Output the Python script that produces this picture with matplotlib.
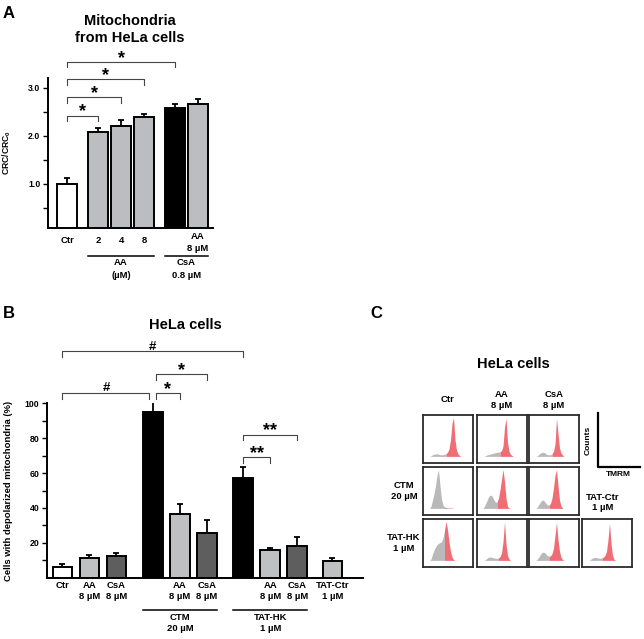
import numpy as np
import matplotlib
matplotlib.use('Agg')
import matplotlib.pyplot as plt
from matplotlib import transforms
from matplotlib.lines import Line2D

plt.rcParams['font.family'] = ['Liberation Sans', 'DejaVu Sans']
plt.rcParams['font.weight'] = 'bold'
plt.rcParams['mathtext.fontset'] = 'custom'
plt.rcParams['mathtext.rm'] = 'Liberation Sans:bold'
plt.rcParams['mathtext.it'] = 'Liberation Sans:bold'
plt.rcParams['mathtext.bf'] = 'Liberation Sans:bold'

W, H = 644, 639
FS = 6.8   # label size
TS = 6.3   # tick size

# ---- panel A : CRC of isolated mitochondria
a_ticks = ['Ctr', '2', '4', '8', '', 'AA\n8 µM']
a_crc = [1.00, 2.07, 2.21, 2.39, 2.57, 2.66]
a_sem = [0.12, 0.10, 0.12, 0.06, 0.09, 0.11]
a_groups = ['AA\n(µM)', 'CsA\n0.8 µM']
a_sig = ['*', '*', '*', '*']

# ---- panel B : cells with depolarized mitochondria
b_ticks = ['Ctr', 'AA\n8 µM', 'CsA\n8 µM', '', 'AA\n8 µM', 'CsA\n8 µM',
           '', 'AA\n8 µM', 'CsA\n8 µM', 'TAT-Ctr\n1 µM']
b_depol = [6.1, 11.2, 12.5, 94.8, 36.4, 25.4, 57.0, 15.6, 18.1, 9.8]
b_sem = [2.0, 1.7, 1.7, 5.7, 6.1, 7.9, 6.4, 1.5, 5.4, 1.5]
b_groups = ['CTM\n20 µM', 'TAT-HK\n1 µM']

# ---- panel C : TMRM histograms (normalised counts on a common TMRM grid)
tmrm_x = [0.10, 0.13, 0.16, 0.19, 0.22, 0.25, 0.28, 0.31, 0.34, 0.37, 0.40, 0.43,
          0.46, 0.49, 0.52, 0.55, 0.58, 0.61, 0.64, 0.67, 0.70, 0.73, 0.76, 0.79]
h_ctr_ctr = [0, 0, 0.01, 0.04, 0.05, 0.06, 0.06, 0.05, 0.04, 0.04, 0.04, 0.05,
             0.06, 0.10, 0.18, 0.40, 0.80, 0.94, 0.40, 0.15, 0.06, 0.02, 0, 0]
h_ctr_aa = [0, 0, 0.01, 0.03, 0.04, 0.05, 0.06, 0.07, 0.08, 0.09, 0.10, 0.10,
            0.11, 0.14, 0.25, 0.70, 0.93, 0.35, 0.12, 0.05, 0.02, 0, 0, 0]
h_ctr_csa = [0, 0, 0.01, 0.04, 0.07, 0.09, 0.10, 0.09, 0.06, 0.04, 0.04, 0.04,
             0.06, 0.12, 0.30, 0.92, 0.55, 0.20, 0.08, 0.03, 0, 0, 0, 0]
h_ctm_ctr = [0, 0, 0.05, 0.20, 0.35, 0.55, 0.80, 0.93, 0.55, 0.22, 0.08, 0.03,
             0.02, 0.01, 0.01, 0.01, 0.01, 0, 0, 0, 0, 0, 0, 0]
h_ctm_aa = [0, 0.01, 0.08, 0.16, 0.25, 0.31, 0.32, 0.28, 0.20, 0.15, 0.15, 0.25,
            0.45, 0.70, 0.94, 0.65, 0.25, 0.05, 0.01, 0, 0, 0, 0, 0]
h_ctm_csa = [0, 0, 0.02, 0.08, 0.14, 0.19, 0.20, 0.17, 0.12, 0.08, 0.08, 0.12,
             0.25, 0.50, 0.80, 0.94, 0.55, 0.20, 0.06, 0.01, 0, 0, 0, 0]
h_hk_ctr = [0, 0, 0.03, 0.15, 0.25, 0.32, 0.38, 0.41, 0.43, 0.45, 0.55, 0.72,
            0.94, 0.75, 0.45, 0.22, 0.08, 0.02, 0, 0, 0, 0, 0, 0]
h_hk_aa = [0, 0, 0.01, 0.04, 0.07, 0.08, 0.08, 0.07, 0.06, 0.05, 0.05, 0.06,
           0.09, 0.18, 0.45, 0.93, 0.40, 0.12, 0.03, 0, 0, 0, 0, 0]
h_hk_csa = [0, 0, 0.02, 0.07, 0.13, 0.18, 0.20, 0.19, 0.15, 0.11, 0.10, 0.11,
            0.16, 0.30, 0.60, 0.92, 0.50, 0.22, 0.08, 0.02, 0, 0, 0, 0]
h_tatctr = [0, 0, 0.01, 0.04, 0.06, 0.07, 0.07, 0.06, 0.05, 0.05, 0.06, 0.08,
            0.12, 0.22, 0.50, 0.90, 0.42, 0.12, 0.03, 0, 0, 0, 0, 0]
gate = [[0.46, 0.46, 0.46], [0.43, 0.40, 0.40], [0.43, 0.43, 0.40, 0.40]]
c_cols = ['Ctr', 'AA\n8 µM', 'CsA\n8 µM']
c_rows = ['CTM\n20 µM', 'TAT-HK\n1 µM']

fig = plt.figure(figsize=(W / 100, H / 100), dpi=100)


def fx(px):
    return px / W


def fy(py):
    return 1 - py / H


def style_axis(ax):
    for s in ['top', 'right']:
        ax.spines[s].set_visible(False)
    for s in ['left', 'bottom']:
        ax.spines[s].set_linewidth(1.4)
    ax.tick_params(axis='y', which='both', length=3.6, width=1.0, pad=1.8,
                   labelsize=TS, direction='out')
    ax.tick_params(axis='x', length=0, labelbottom=False)


def bracket(ax, x1, x2, y, leg, mark, size, dy):
    ax.plot([x1, x1, x2, x2], [y - leg, y, y, y - leg], color='#444444', lw=0.8,
            clip_on=False)
    ax.annotate(mark, xy=((x1 + x2) / 2, y), xytext=(0, dy), textcoords='offset points',
                ha='center', va='center', fontsize=size, fontweight='bold',
                annotation_clip=False)


# ================= A =================
a_pos = [0, 1.35, 2.35, 3.35, 4.7, 5.7]
a_colors = ['white', '#bcbdc0', '#bcbdc0', '#bcbdc0', 'black', '#bcbdc0']
axA = fig.add_axes([fx(48), fy(228), fx(165), 150 / H])
axA.bar(a_pos, a_crc, width=0.87, color=a_colors, edgecolor='black', linewidth=1.4,
        zorder=2)
axA.errorbar(a_pos, a_crc, yerr=[np.zeros(len(a_crc)), a_sem], fmt='none',
             ecolor='black', elinewidth=1.3, capsize=2.2, capthick=1.3, zorder=1)
axA.set_xlim(-0.83, 6.35)
axA.set_ylim(0.08, 3.2)
axA.set_yticks([1, 2, 3])
axA.set_yticklabels(['1.0', '2.0', '3.0'])
axA.set_yticks([0.5, 1.5, 2.5], minor=True)
style_axis(axA)
axA.set_ylabel('CRC/CRC$_0$', fontsize=6.2, fontweight='bold')
axA.yaxis.set_label_coords((13 - 48) / 165, 0.5)

tA = transforms.blended_transform_factory(axA.transData, fig.transFigure)
for i, lab in enumerate(a_ticks):
    if not lab:
        continue
    yy = 242.5 if '\n' in lab else 240.5
    fig.text(a_pos[i], fy(yy), lab, transform=tA, ha='center', va='center',
             fontsize=FS, linespacing=1.4)
for (i0, i1), lab in zip([(1, 3), (4, 5)], a_groups):
    x0, x1 = a_pos[i0] - 0.435, a_pos[i1] + 0.435
    fig.add_artist(Line2D([x0, x1], [fy(256), fy(256)], transform=tA, color='black',
                          lw=1.1))
    fig.text((x0 + x1) / 2, fy(269), lab, transform=tA, ha='center', va='center',
             fontsize=FS, linespacing=1.5)

a_levels = [2.42, 2.80, 3.17, 3.54]
for k, lev, mark in zip([1, 2, 3, 4], a_levels, a_sig):
    bracket(axA, a_pos[0], a_pos[k], lev, 0.12, mark, 13, 2.5)

fig.text(fx(130), fy(21), 'Mitochondria', ha='center', va='center', fontsize=10.5)
fig.text(fx(130), fy(38), 'from HeLa cells', ha='center', va='center', fontsize=10.5)
fig.text(fx(9), fy(14), 'A', ha='center', va='center', fontsize=12)

# ================= B =================
b_pos = [0, 1, 2, 3.35, 4.35, 5.35, 6.7, 7.7, 8.7, 10.0]
lg, dg = '#bfc0c2', '#5e5e5e'
b_colors = ['white', lg, dg, 'black', lg, dg, 'black', lg, dg, lg]
axB = fig.add_axes([fx(47), fy(577.7), fx(316), 174.4 / H])
axB.bar(b_pos, b_depol, width=0.74, color=b_colors, edgecolor='black', linewidth=1.4,
        zorder=2)
axB.errorbar(b_pos, b_depol, yerr=[np.zeros(len(b_depol)), b_sem], fmt='none',
             ecolor='black', elinewidth=1.3, capsize=2.2, capthick=1.3, zorder=1)
axB.set_xlim(-0.574, 11.13)
axB.set_ylim(0, 100)
axB.set_yticks([20, 40, 60, 80, 100])
axB.set_yticks([10, 30, 50, 70, 90], minor=True)
style_axis(axB)
axB.set_ylabel('Cells with depolarized mitochondria (%)', fontsize=FS, fontweight='bold')
axB.yaxis.set_label_coords((13 - 47) / 316, 0.5)

tB = transforms.blended_transform_factory(axB.transData, fig.transFigure)
for i, lab in enumerate(b_ticks):
    if lab:
        fig.text(b_pos[i], fy(581), lab, transform=tB, ha='center', va='top',
                 fontsize=FS, linespacing=1.3)
for (i0, i1), lab in zip([(3, 5), (6, 8)], b_groups):
    x0, x1 = b_pos[i0] - 0.37, b_pos[i1] + 0.37
    fig.add_artist(Line2D([x0, x1], [fy(610), fy(610)], transform=tB, color='black',
                          lw=1.1))
    fig.text((x0 + x1) / 2, fy(623), lab, transform=tB, ha='center', va='center',
             fontsize=FS, linespacing=1.3)

bracket(axB, b_pos[0], b_pos[6], 129.8, 3.4, '#', 9.5, 3)
bracket(axB, b_pos[0], b_pos[3] - 0.13, 106.1, 3.4, '#', 9.5, 3)
bracket(axB, b_pos[3] + 0.11, b_pos[4], 106.1, 3.4, '*', 13, 2.5)
bracket(axB, b_pos[3] + 0.11, b_pos[5], 117.0, 3.4, '*', 13, 2.5)
bracket(axB, b_pos[6], b_pos[7], 69.1, 3.4, '**', 13, 2.5)
bracket(axB, b_pos[6], b_pos[8], 82.1, 3.4, '**', 13, 2.5)

fig.text(fx(185), fy(325), 'HeLa cells', ha='center', va='center', fontsize=10.5)
fig.text(fx(9), fy(313), 'B', ha='center', va='center', fontsize=12)

# ================= C =================
fig.text(fx(513), fy(364), 'HeLa cells', ha='center', va='center', fontsize=10.5)
fig.text(fx(376), fy(313), 'C', ha='center', va='center', fontsize=12)

col_x = [423, 477, 529, 582]
row_y = [415, 467, 519]
box_w, box_h = 50, 48
hists = [[h_ctr_ctr, h_ctr_aa, h_ctr_csa],
         [h_ctm_ctr, h_ctm_aa, h_ctm_csa],
         [h_hk_ctr, h_hk_aa, h_hk_csa, h_tatctr]]
xs = np.array(tmrm_x)
for r, row in enumerate(hists):
    for c, counts in enumerate(row):
        ax = fig.add_axes([fx(col_x[c]), fy(row_y[r] + box_h), box_w / W, box_h / H])
        hh = np.array(counts)
        g = gate[r][c]
        ax.fill_between(xs, 0, hh, where=xs <= g + 1e-9, color='#b9b9b9', lw=0)
        ax.fill_between(xs, 0, hh, where=xs >= g - 1e-9, color='#ef6e76', lw=0)
        ax.set_xlim(0, 1)
        ax.set_ylim(-0.16, 1.0)
        ax.set_xticks([])
        ax.set_yticks([])
        for s in ax.spines.values():
            s.set_linewidth(1.3)
            s.set_color('#2b2b2b')

for c, lab in enumerate(c_cols):
    fig.text(fx(col_x[c] + box_w / 2), fy(400), lab, ha='center', va='center',
             fontsize=FS, linespacing=1.3)
for r, lab in enumerate(c_rows):
    fig.text(fx(404), fy(row_y[r + 1] + 24), lab, ha='center', va='center',
             fontsize=FS, linespacing=1.25)
fig.text(fx(603), fy(502.5), 'TAT-Ctr\n1 µM', ha='center', va='center', fontsize=FS,
         linespacing=1.25)

# scale bar
fig.add_artist(Line2D([fx(598), fx(598), fx(640)], [fy(413), fy(467), fy(467)],
                      transform=fig.transFigure, color='black', lw=1.6))
fig.text(fx(588), fy(440), 'Counts', rotation=90, ha='center', va='center', fontsize=6)
fig.text(fx(618), fy(474.5), 'TMRM', ha='center', va='center', fontsize=6)

fig.savefig('out.png', dpi=100)
